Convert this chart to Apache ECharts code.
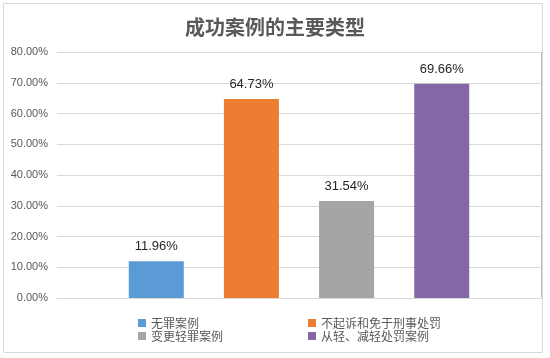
<!DOCTYPE html>
<html><head><meta charset="utf-8">
<script src="https://cdn.jsdelivr.net/npm/echarts@6/dist/echarts.min.js"></script>
<style>html,body{margin:0;padding:0;background:#fff}#c{width:550px;height:358px}</style>
</head><body><div id="c"></div>
<script>
var title = '成功案例的主要类型';
var seriesNames = ['无罪案例', '不起诉和免于刑事处罚', '变更轻罪案例', '从轻、减轻处罚案例'];
var seriesValues = [11.96, 64.73, 31.54, 69.66];
var seriesColors = ['#5B9BD5', '#ED7D31', '#A5A5A5', '#8567A6'];
var yTicks = [0, 10, 20, 30, 40, 50, 60, 70, 80];

var chart = echarts.init(document.getElementById('c'));
var series = seriesNames.map(function (n, i) {
  return {
    name: n, type: 'bar', data: [seriesValues[i]],
    barWidth: 55, barGap: '73%',
    itemStyle: { color: seriesColors[i] },
    label: { show: true, position: 'top', distance: 8, color: '#262626', fontSize: 13,
      fontFamily: 'Liberation Sans, Arial, sans-serif',
      formatter: function (p) { return p.value.toFixed(2) + '%'; } }
  };
});
var legendCommon = { orient: 'vertical', itemWidth: 8, itemHeight: 8, itemGap: 1, icon: 'rect',
  textStyle: { color: '#595959', fontSize: 12, fontFamily: 'Noto Sans CJK SC' } };
chart.setOption({
  animation: false,
  graphic: [{ type: 'rect', shape: { x: 3.5, y: 3.5, width: 539, height: 349 },
    style: { fill: 'none', stroke: '#D9D9D9', lineWidth: 1 } },
    { type: 'line', shape: { x1: 541.5, y1: 52, x2: 541.5, y2: 298 },
    style: { stroke: '#BFBFBF', lineWidth: 1 } }],
  title: { text: title, left: 'center', top: 12,
    textStyle: { color: '#595959', fontSize: 20, fontWeight: 'bold', fontFamily: 'Noto Sans CJK SC' } },
  grid: { left: 57, right: 9, top: 52, bottom: 60 },
  xAxis: { type: 'category', data: [''], axisLine: { lineStyle: { color: '#D9D9D9' } },
    axisTick: { show: false }, axisLabel: { show: false } },
  yAxis: { type: 'value', min: 0, max: 80, interval: 10,
    axisLine: { show: false }, axisTick: { show: false },
    splitLine: { lineStyle: { color: '#D9D9D9' } },
    axisLabel: { color: '#595959', fontSize: 11, margin: 9, fontFamily: 'Liberation Sans, Arial, sans-serif',
      formatter: function (v) { return yTicks.indexOf(v) >= 0 ? v.toFixed(2) + '%' : ''; } } },
  legend: [
    Object.assign({ left: 138, top: 317, padding: [0, 0, 0, 0], data: [seriesNames[0], seriesNames[2]] }, legendCommon),
    Object.assign({ left: 308, top: 317, padding: [0, 0, 0, 0], data: [seriesNames[1], seriesNames[3]] }, legendCommon)
  ],
  series: series
});
</script></body></html>
